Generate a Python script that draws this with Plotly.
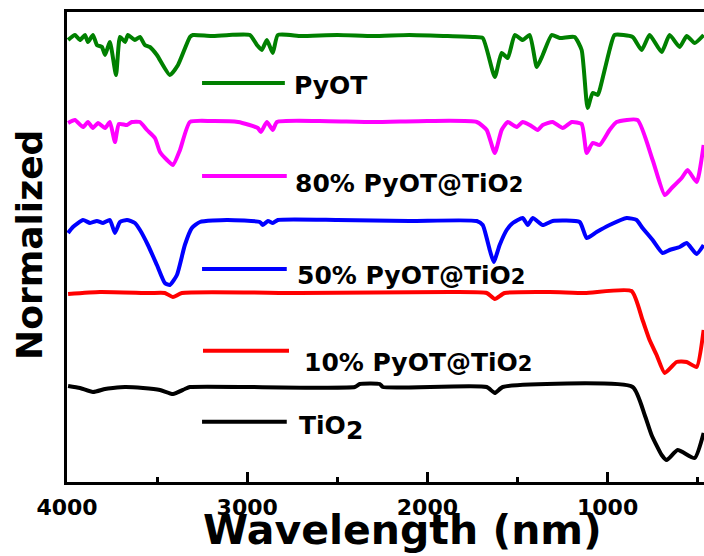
import plotly.graph_objects as go

# ---- data (wavenumber, offset intensity) ----
pyot_wn = [3994, 3956, 3928, 3900, 3884, 3856, 3834, 3806, 3789, 3762, 3728, 3706, 3678, 3662, 3623,
           3595, 3568, 3540, 3501, 3429, 3384, 3318, 3301, 3200, 3100, 2985, 2946, 2919, 2891, 2858,
           2830, 2700, 2500, 2300, 2100, 1900, 1748, 1693, 1626, 1588, 1554, 1515, 1471, 1432, 1393,
           1360, 1310, 1266, 1183, 1144, 1111, 1083, 1055, 1044, 989, 961, 861, 811, 767, 700, 656,
           600, 561, 517, 467]
pyot_y = [442, 447, 442, 447, 440, 447, 437, 435, 427, 440, 407, 445, 440, 447, 442,
          445, 437, 435, 427, 407, 417, 445, 447, 446, 447, 447, 437, 432, 442, 429,
          447, 446, 447, 446, 447, 446, 445, 444, 405, 429, 424, 447, 442, 447, 415,
          427, 447, 444, 445, 432, 374, 389, 387, 392, 432, 447, 445, 432, 447, 430, 447,
          435, 446, 439, 447]

p80_wn = [3994, 3956, 3911, 3884, 3856, 3828, 3789, 3762, 3734, 3712, 3667, 3640, 3595, 3556, 3512,
          3484, 3445, 3412, 3373, 3318, 3200, 3050, 2941, 2924, 2891, 2858, 2835, 2600, 2300, 2000,
          1726, 1671, 1626, 1588, 1554, 1504, 1471, 1432, 1388, 1360, 1305, 1249, 1199, 1144, 1116,
          1083, 1044, 989, 950, 834, 750, 683, 644, 589, 556, 506, 467]
p80_y = [359, 362, 355, 360, 354, 359, 354, 360, 340, 358, 357, 360, 360, 352, 344,
         330, 322, 317, 332, 360, 361, 360, 354, 350, 360, 352, 360, 361, 360, 361,
         360, 352, 329, 352, 360, 355, 360, 357, 352, 357, 360, 354, 360, 358, 329,
         339, 337, 352, 360, 362, 322, 287, 294, 304, 312, 300, 337]

p50_wn = [3994, 3967, 3911, 3872, 3834, 3800, 3762, 3734, 3706, 3667, 3623, 3595, 3551, 3501, 3457,
          3429, 3390, 3346, 3307, 3262, 3113, 2930, 2913, 2885, 2858, 2830, 2500, 2100, 1726, 1693,
          1654, 1632, 1599, 1560, 1526, 1471, 1443, 1415, 1360, 1305, 1155, 1116, 1061, 989, 894,
          839, 806, 750, 695, 656, 600, 561, 506, 467]
p50_y = [249, 255, 262, 259, 261, 259, 262, 249, 260, 262, 259, 252, 237, 217, 199,
         197, 207, 237, 254, 260, 262, 260, 257, 261, 259, 262, 262, 261, 261, 257,
         232, 220, 237, 252, 259, 264, 257, 264, 257, 261, 260, 244, 250, 257, 264,
         262, 254, 242, 229, 232, 235, 239, 228, 237]

p10_wn = [3994, 3817, 3540, 3457, 3412, 3362, 2708, 1876, 1671, 1626, 1571, 1321, 1127, 867,
          806, 767, 728, 683, 617, 561, 506, 467]
p10_y = [188, 190, 189, 189, 185, 189, 189, 190, 189, 183, 189, 190, 189, 191,
         162, 142, 127, 109, 120, 120, 115, 152]

tio2_wn = [3994, 3928, 3856, 3789, 3745, 3678, 3578, 3484, 3412, 3346, 3318, 2403, 2375, 2264,
           2247, 1671, 1626, 1582, 861, 794, 756, 700, 672, 611, 517, 467]
tio2_y = [96, 94, 90, 93, 94, 95, 94, 92, 88, 93, 95, 95, 98, 98,
          95, 95, 89, 95, 95, 67, 47, 27, 22, 32, 24, 49]

series = [
    ("PyOT", pyot_wn, pyot_y, "#008000"),
    ("80% PyOT@TiO2", p80_wn, p80_y, "#FF00FF"),
    ("50% PyOT@TiO2", p50_wn, p50_y, "#0000FF"),
    ("10% PyOT@TiO2", p10_wn, p10_y, "#FF0000"),
    ("TiO2", tio2_wn, tio2_y, "#000000"),
]

x_ticks = [4000, 3000, 2000, 1000]
x_tick_labels = ["4000", "3000", "2000", "1000"]
x_minor = [3500, 2500, 1500, 500]

FONT = "DejaVu Sans"

fig = go.Figure()
for name, wn, yv, col in series:
    fig.add_trace(go.Scatter(x=wn, y=yv, mode="lines", name=name,
                             line=dict(color=col, width=4, shape="spline", smoothing=0.5),
                             showlegend=False))

# legend-like labels inside the plot
labels = [
    ("PyOT", "#008000", 0.212, 0.342, 0.849, 0.353, 0.843),
    ("80% PyOT@TiO<span style='font-size:21px'>2</span>", "#FF00FF", 0.212, 0.345, 0.651, 0.355, 0.636),
    ("50% PyOT@TiO<span style='font-size:21px'>2</span>", "#0000FF", 0.212, 0.345, 0.453, 0.358, 0.440),
    ("10% PyOT@TiO<span style='font-size:21px'>2</span>", "#FF0000", 0.2135, 0.3485, 0.279, 0.369, 0.255),
    ("TiO<sub><span style='font-size:25px'>2</span></sub>", "#000000", 0.212, 0.345, 0.128, 0.361, 0.115),
]
shapes = []
annotations = []
for txt, col, x0, x1, ys, xt, yt in labels:
    shapes.append(dict(type="line", xref="paper", yref="paper", x0=x0, x1=x1, y0=ys, y1=ys,
                       line=dict(color=col, width=4)))
    annotations.append(dict(text=txt, xref="paper", yref="paper", x=xt, y=yt, xanchor="left",
                            yanchor="middle", showarrow=False,
                            font=dict(family=FONT, size=25, color="black", weight="bold")))

annotations.append(dict(text="Wavelength (nm)", xref="paper", yref="paper", x=0.526, y=-0.158,
                        xanchor="center", yanchor="bottom", showarrow=False,
                        font=dict(family=FONT, size=41, color="black", weight="bold")))
annotations.append(dict(text="Normalized", xref="paper", yref="paper", x=-0.06, y=0.504,
                        xanchor="center", yanchor="middle", showarrow=False, textangle=-90,
                        font=dict(family=FONT, size=36, color="black", weight="bold")))

fig.update_layout(
    width=704, height=556,
    margin=dict(l=67, r=0, t=12, b=74),
    plot_bgcolor="white", paper_bgcolor="white",
    shapes=shapes, annotations=annotations,
    xaxis=dict(range=[4000, 465], tickmode="array", tickvals=x_ticks, ticktext=x_tick_labels,
               ticks="inside", ticklen=10, tickwidth=3, tickcolor="black", ticklabelstandoff=4,
               showline=True, linewidth=3, linecolor="black", mirror=True,
               showgrid=False, zeroline=False,
               tickfont=dict(family=FONT, size=22, color="black", weight="bold"),
               minor=dict(tickvals=x_minor, ticks="inside", ticklen=5, tickwidth=3, tickcolor="black")),
    yaxis=dict(range=[0, 470], showticklabels=False, ticks="", showline=True, linewidth=3,
               linecolor="black", showgrid=False, zeroline=False),
)

fig.write_html("out.html")
